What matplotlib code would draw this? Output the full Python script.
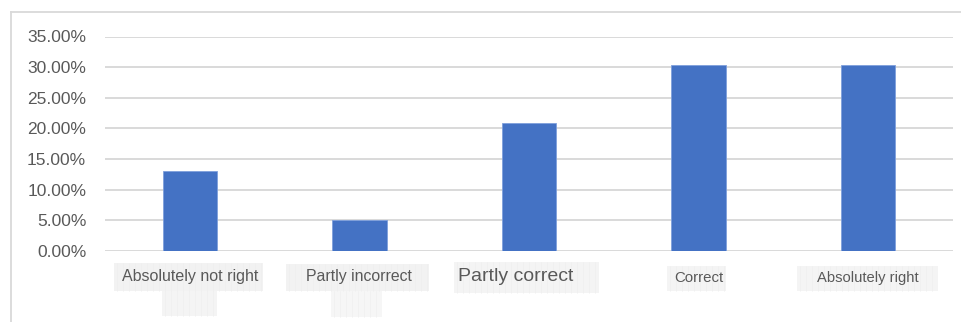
import matplotlib
matplotlib.use("Agg")
import matplotlib.pyplot as plt
from matplotlib.patches import Rectangle
from matplotlib.lines import Line2D
from matplotlib.transforms import IdentityTransform, blended_transform_factory, offset_copy

plt.rcParams['font.family'] = ['Liberation Sans', 'DejaVu Sans']

categories = ["Absolutely not right", "Partly incorrect", "Partly correct", "Correct", "Absolutely right"]
values = [13.0, 5.1, 20.9, 30.3, 30.3]
yticks = [0, 5, 10, 15, 20, 25, 30, 35]

label_sizes = [11.5, 11.4, 14.0, 10.8, 10.6]
label_dx = [0, 0, -13, 0, 0]        # pixel offsets of label centres
label_dy = [0, 0, 0, -1.5, -1.5]

W, H = 962, 322
fig = plt.figure(figsize=(W / 100, H / 100), dpi=100)
ax = fig.add_axes([105 / W, 1 - 251 / H, (953 - 105) / W, (251 - 36.5) / H])

x = list(range(len(categories)))
ax.bar(x, values, width=0.32, color="#4472C4", edgecolor="#7fa0dc", linewidth=0.6, zorder=3)
ax.set_xlim(-0.5, len(categories) - 0.5)
ax.set_ylim(0, 35)
ax.set_yticks(yticks)
ax.set_yticklabels([f"{v:.2f}%" for v in yticks], fontsize=12.5, color="#595959")
ax.tick_params(axis="y", length=0, pad=13.5)
ax.set_xticks([])
ax.grid(axis="y", color="#d9d9d9", linewidth=1.4, zorder=0)
for s in ax.spines.values():
    s.set_visible(False)

# outer frame
fig.add_artist(Line2D([11, 11], [0, H - 12], transform=IdentityTransform(), color="#d9d9d9", linewidth=1.3))
fig.add_artist(Line2D([11, W], [H - 12, H - 12], transform=IdentityTransform(), color="#d9d9d9", linewidth=1.3))

# label background boxes (pixel coords from top-left: x0, x1, y0, y1)
boxes = [(114, 263, 263, 291), (162, 217, 291, 316),
         (286, 429, 264, 291), (331, 382, 291, 317),
         (454, 599, 262, 293),
         (667, 726, 266, 291),
         (797, 938, 266, 291)]
box_colors = ["#f2f2f2", "#f4f4f4", "#f2f2f2", "#f6f6f6", "#f4f4f4", "#f4f4f4", "#f4f4f4"]
for (x0, x1, y0, y1), c in zip(boxes, box_colors):
    fig.add_artist(Rectangle((x0, H - y1), x1 - x0, y1 - y0, transform=IdentityTransform(),
                             facecolor=c, edgecolor="none", zorder=0))
    for xs in range(x0 + 3, x1, 6):
        fig.add_artist(Line2D([xs, xs], [H - y1, H - y0], transform=IdentityTransform(),
                              color="#eeeeee", linewidth=0.4, zorder=0.5))

trans = blended_transform_factory(ax.transData, fig.transFigure)
for i, (lab, fs, dx, dy) in enumerate(zip(categories, label_sizes, label_dx, label_dy)):
    t = offset_copy(trans, fig=fig, x=dx, y=dy, units="dots")
    fig.text(i, 1 - 276.5 / H, lab, transform=t, ha="center", va="center",
             fontsize=fs, color="#595959", zorder=2)

fig.savefig("out.png", dpi=100)
